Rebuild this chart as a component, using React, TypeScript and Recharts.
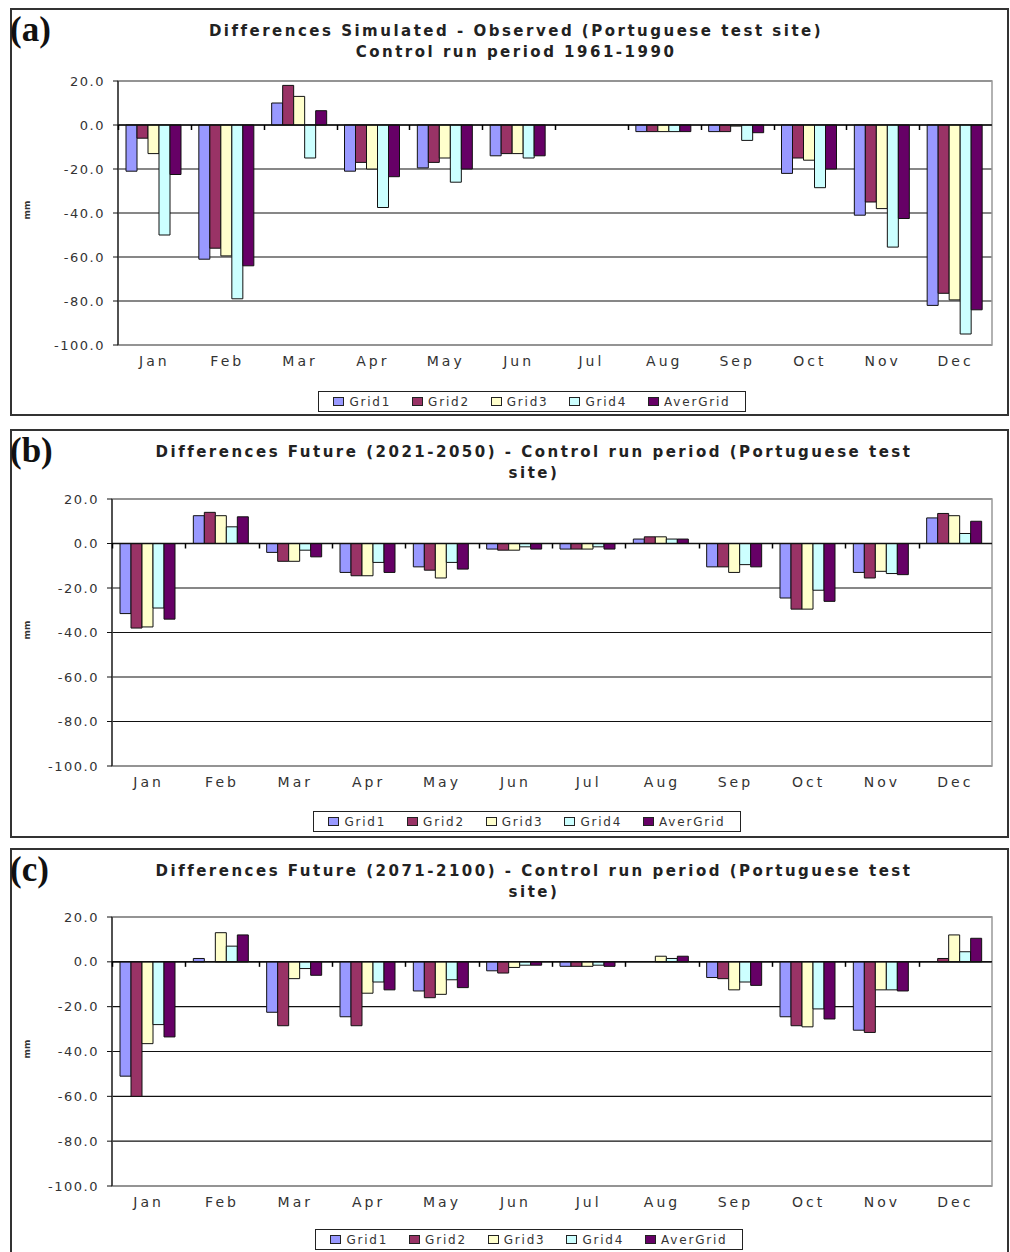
import React from "react";
import { BarChart, Bar, XAxis, YAxis, CartesianGrid, ReferenceLine, ReferenceArea } from "recharts";

const months = ["Jan", "Feb", "Mar", "Apr", "May", "Jun", "Jul", "Aug", "Sep", "Oct", "Nov", "Dec"];
const seriesNames = ["Grid1", "Grid2", "Grid3", "Grid4", "AverGrid"];
const seriesColors = ["#9999FF", "#993366", "#FFFFCC", "#CCFFFF", "#660066"];
const yTicks = [20, 0, -20, -40, -60, -80, -100];

// (a) simulated - observed, control run 1961-1990
const aGrid1 = [-21, -61, 10, -21, -19.5, -14, 0, -3, -3, -22, -41, -82];
const aGrid2 = [-6, -56, 18, -17, -17, -13, 0, -3, -3, -15, -35, -76.5];
const aGrid3 = [-13, -59.5, 13, -20, -15, -13, 0, -3, -0.5, -16, -38, -79.5];
const aGrid4 = [-50, -79, -15, -37.5, -26, -15, 0, -3, -7, -28.5, -55.5, -95];
const aAver = [-22.5, -64, 6.5, -23.5, -20, -14, 0, -3, -3.5, -20, -42.5, -84];

// (b) future 2021-2050 minus control
const bGrid1 = [-31.5, 12.5, -4, -13, -10.5, -2.5, -2.5, 2, -10.5, -24.5, -13, 11.5];
const bGrid2 = [-38, 14, -8, -14.5, -12, -3, -2.5, 3, -10.5, -29.5, -15.5, 13.5];
const bGrid3 = [-37.5, 12.5, -8, -14.5, -15.5, -3, -2.5, 3, -13, -29.5, -12.5, 12.5];
const bGrid4 = [-29, 7.5, -3, -8.5, -8.5, -1.5, -1.5, 2, -9.5, -21, -13.5, 4.5];
const bAver = [-34, 12, -6, -13, -11.5, -2.5, -2.5, 2, -10.5, -26, -14, 10];

// (c) future 2071-2100 minus control
const cGrid1 = [-51, 1.5, -22.5, -24.5, -13, -4, -2, 0, -7, -24.5, -30.5, 0];
const cGrid2 = [-60, 0, -28.5, -28.5, -16, -5, -2, 0, -7.5, -28.5, -31.5, 1.5];
const cGrid3 = [-36.5, 13, -7.5, -14, -14.5, -2.5, -2, 2.5, -12.5, -29, -12.5, 12];
const cGrid4 = [-28, 7, -3, -9, -8, -1.5, -1.5, 1.5, -9, -21, -12.5, 4.5];
const cAver = [-33.5, 12, -6, -12.5, -11.5, -1.5, -2, 2.5, -10.5, -25.5, -13, 10.5];

const toRows = (series: number[][]) =>
  months.map((m, i) => {
    const row: Record<string, string | number> = { month: m };
    seriesNames.forEach((s, k) => (row[s] = series[k][i]));
    return row;
  });

const yTickFont = { fontFamily: "DejaVu Sans", fontSize: 13, fill: "#333", letterSpacing: 1.5 };
const xTickFont = { fontFamily: "DejaVu Sans", fontSize: 14, fill: "#333", letterSpacing: 3 };

// month label + the small Excel-style tick mark hanging from the zero line
const MonthTick = (props: any) => {
  const { x, y, payload, zeroY, band } = props;
  const bx = Math.round(x - band / 2) + 0.5;
  return (
    <g>
      <line x1={bx} x2={bx} y1={zeroY} y2={zeroY + 5} stroke="#000" strokeWidth={1.5} />
      <text x={x} y={y} dy="0.71em" textAnchor="middle" {...xTickFont}>
        {payload.value}
      </text>
    </g>
  );
};

interface PanelProps {
  tag: string;
  titleLines: string[];
  top: number;
  height: number;
  plotLeft: number;
  plotTop: number;
  plotBottom: number;
  legendLeft: number;
  legendTop: number;
  rows: Record<string, string | number>[];
}

const Panel = ({ tag, titleLines, top, height, plotLeft, plotTop, plotBottom, legendLeft, legendTop, rows }: PanelProps) => {
  const yAxisW = 70;
  const xAxisH = 30;
  const plotRight = 992;
  const zeroY = plotTop + ((plotBottom - plotTop) * 20) / 120;
  const band = (plotRight - plotLeft) / months.length;
  const wideTitle = titleLines[1].length < 10;
  return (
    <>
      <div
        style={{
          position: "absolute",
          left: 10,
          top,
          width: 999,
          height,
          border: "2px solid #333",
          boxSizing: "border-box",
        }}
      />
      <div
        style={{
          position: "absolute",
          left: 10,
          top: top + 3,
          fontFamily: "Liberation Serif",
          fontWeight: "bold",
          fontSize: 35,
          lineHeight: "38px",
          color: "#111",
        }}
      >
        {tag}
      </div>
      {titleLines.map((t, i) => (
        <div
          key={i}
          style={{
            position: "absolute",
            left: 0,
            width: wideTitle ? 1068 : 1032,
            top: top + 13 + i * 21,
            textAlign: "center",
            fontFamily: "DejaVu Sans",
            fontWeight: "bold",
            fontSize: 15,
            letterSpacing: 2.5,
            lineHeight: "20px",
            color: "#222",
          }}
        >
          {t}
        </div>
      ))}
      <div
        style={{
          position: "absolute",
          left: 18,
          top: (plotTop + plotBottom) / 2 - 8,
          transform: "rotate(-90deg)",
          fontFamily: "DejaVu Sans",
          fontWeight: "bold",
          fontSize: 9,
          color: "#333",
        }}
      >
        mm
      </div>
      <div style={{ position: "absolute", left: 0, top }}>
        <BarChart
          width={1010}
          height={height}
          data={rows}
          barCategoryGap={8}
          barGap={0}
          margin={{
            left: plotLeft - yAxisW,
            right: 1010 - plotRight,
            top: plotTop - top,
            bottom: top + height - plotBottom - xAxisH,
          }}
        >
          <CartesianGrid vertical={false} stroke="#111" strokeWidth={1.2} />
          <XAxis
            dataKey="month"
            height={xAxisH}
            axisLine={false}
            tickLine={false}
            tickSize={0}
            tickMargin={11}
            tick={(p: any) => <MonthTick {...p} zeroY={zeroY - top} band={band} />}
            interval={0}
          />
          <YAxis
            width={yAxisW}
            domain={[-100, 20]}
            ticks={yTicks}
            allowDataOverflow
            tickFormatter={(v: number) => v.toFixed(1)}
            tick={yTickFont}
            axisLine={{ stroke: "#111", strokeWidth: 1.2 }}
            tickLine={{ stroke: "#111" }}
            tickSize={5}
            tickMargin={8}
          />
          <ReferenceArea y1={-100} y2={20} fill="none" stroke="#999" strokeWidth={1.5} />
          {seriesNames.map((s, k) => (
            <Bar key={s} dataKey={s} fill={seriesColors[k]} stroke="#111" strokeWidth={1} isAnimationActive={false} />
          ))}
          <ReferenceLine y={0} stroke="#111" strokeWidth={1.5} />
        </BarChart>
      </div>
      <div
        style={{
          position: "absolute",
          left: legendLeft,
          top: legendTop,
          width: 428,
          height: 21,
          border: "1.5px solid #222",
          boxSizing: "border-box",
          display: "flex",
          alignItems: "center",
          justifyContent: "space-around",
          padding: "0 4px",
          background: "#fff",
          fontFamily: "DejaVu Sans",
          fontSize: 12,
          letterSpacing: 1.8,
          color: "#333",
        }}
      >
        {seriesNames.map((s, k) => (
          <span key={s} style={{ display: "flex", alignItems: "center" }}>
            <span
              style={{
                display: "inline-block",
                width: 9,
                height: 7,
                background: seriesColors[k],
                border: "1px solid #222",
                marginRight: 5,
              }}
            />
            {s}
          </span>
        ))}
      </div>
    </>
  );
};

export default function App() {
  return (
    <div style={{ position: "absolute", left: 0, top: 0, width: 1010, height: 1252, background: "#fff", overflow: "hidden" }}>
      <Panel
        tag="(a)"
        titleLines={["Differences Simulated - Observed (Portuguese test site)", "Control run period 1961-1990"]}
        top={8}
        height={408}
        plotLeft={118}
        plotTop={81}
        plotBottom={345}
        legendLeft={318}
        legendTop={391}
        rows={toRows([aGrid1, aGrid2, aGrid3, aGrid4, aAver])}
      />
      <Panel
        tag="(b)"
        titleLines={["Differences Future (2021-2050) - Control run period (Portuguese test", "site)"]}
        top={429}
        height={409}
        plotLeft={112}
        plotTop={499}
        plotBottom={766}
        legendLeft={313}
        legendTop={811}
        rows={toRows([bGrid1, bGrid2, bGrid3, bGrid4, bAver])}
      />
      <Panel
        tag="(c)"
        titleLines={["Differences Future (2071-2100) - Control run period (Portuguese test", "site)"]}
        top={848}
        height={410}
        plotLeft={112}
        plotTop={917}
        plotBottom={1186}
        legendLeft={315}
        legendTop={1229}
        rows={toRows([cGrid1, cGrid2, cGrid3, cGrid4, cAver])}
      />
    </div>
  );
}
